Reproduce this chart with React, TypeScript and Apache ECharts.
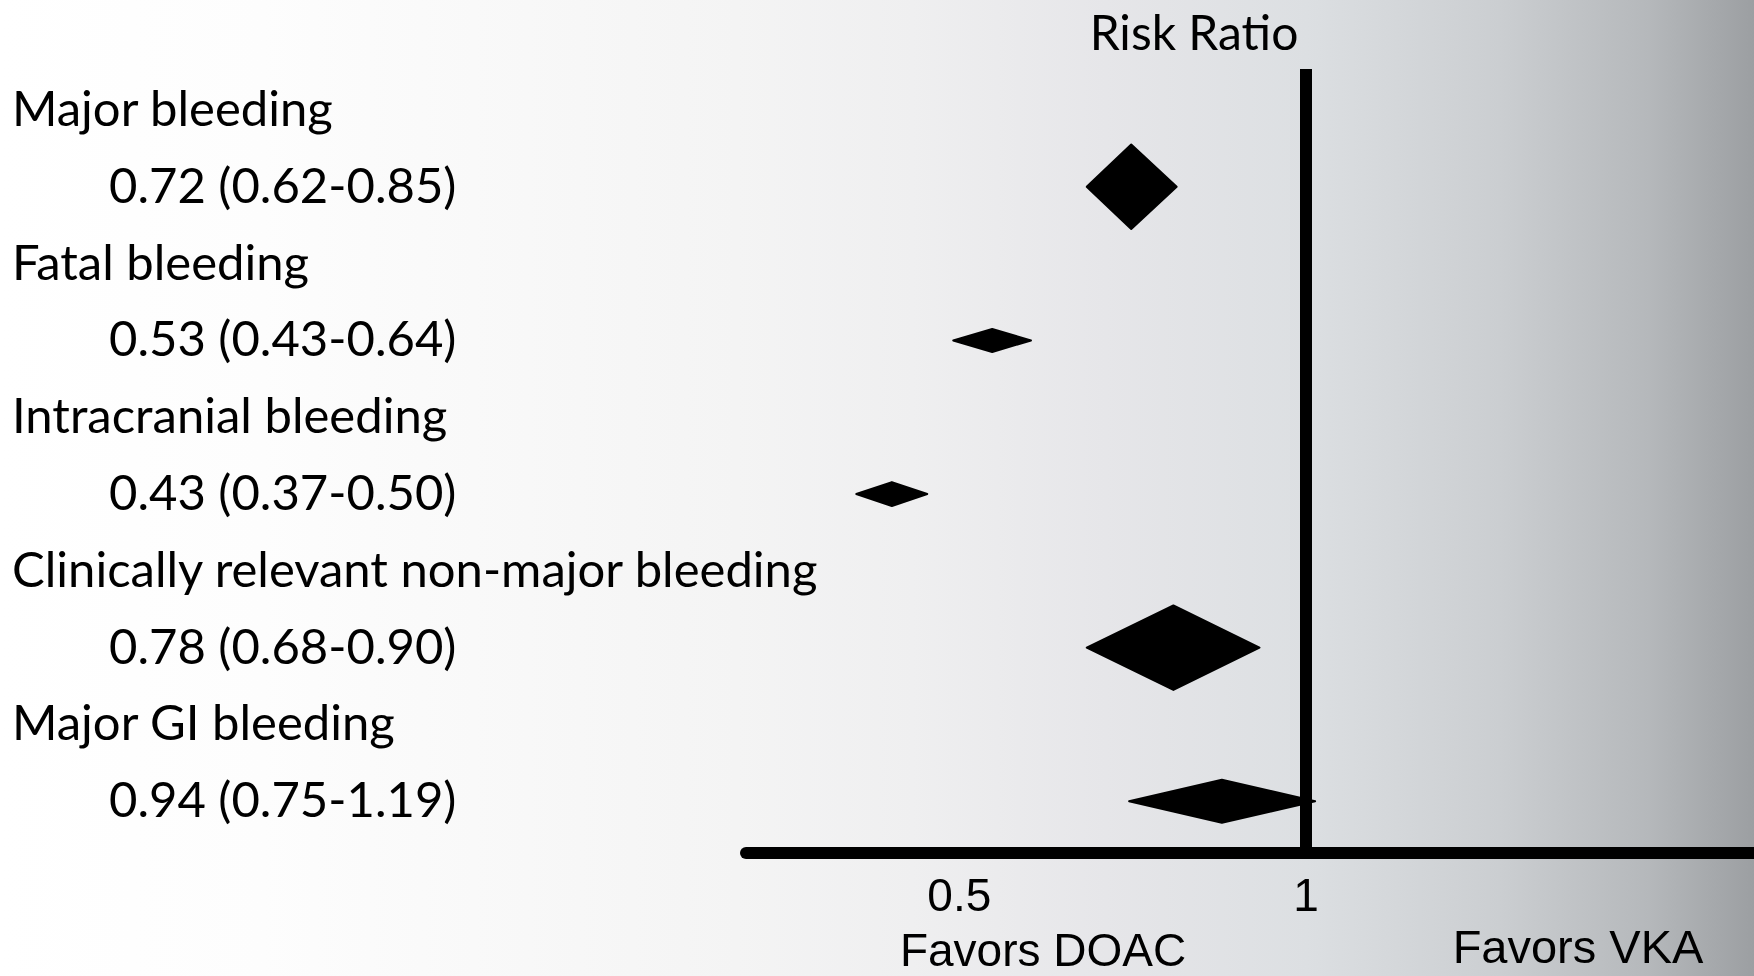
import React, { useEffect, useRef } from "react";
import * as echarts from "echarts";

// ---- data ----
const outcomes = [
  "Major bleeding",
  "Fatal bleeding",
  "Intracranial bleeding",
  "Clinically relevant non-major bleeding",
  "Major GI bleeding",
];
const riskRatio = [0.72, 0.53, 0.43, 0.78, 0.94];
const ciLower = [0.62, 0.43, 0.37, 0.68, 0.75];
const ciUpper = [0.85, 0.64, 0.5, 0.9, 1.19];

// diamond extents as drawn in the figure
const drawnCenter = [0.705, 0.534, 0.437, 0.767, 0.845];
const drawnLower = [0.645, 0.494, 0.407, 0.645, 0.702];
const drawnUpper = [0.772, 0.577, 0.469, 0.911, 1.018];

const xTickLabels = [0.5, 1];

// style: diamond heights in row units
const diamondHeight = [1.1, 0.3, 0.31, 1.1, 0.56];

const fmt = (v: number) => v.toFixed(2);

const labelLines: string[] = [];
outcomes.forEach((name, i) => {
  labelLines.push(`{n|${name}}`);
  labelLines.push(`{v|${fmt(riskRatio[i])} (${fmt(ciLower[i])}-${fmt(ciUpper[i])})}`);
});

const LABEL_FONT = "Lato, 'Noto Sans', sans-serif";
const ARIAL = "'Liberation Sans', Arial, sans-serif";

export default function App() {
  const ref = useRef<HTMLDivElement>(null);
  useEffect(() => {
    if (!ref.current) return;
    const chart = echarts.init(ref.current, undefined, { renderer: "svg" });
    const diamondData = outcomes.map((_, i) => [
      drawnCenter[i],
      drawnLower[i],
      drawnUpper[i],
      2 * (i + 1),
      diamondHeight[i],
    ]);
    const option: any = {
      animation: false,
      backgroundColor: "transparent",
      grid: {
        left: 746,
        right: 0,
        top: 69,
        bottom: 123,
        containLabel: false,
        outerBoundsMode: "none",
      },
      graphic: {
        elements: [
          {
            type: "rect",
            z: -100,
            silent: true,
            shape: { x: 0, y: 0, width: 1754, height: 976 },
            style: {
              fill: new echarts.graphic.LinearGradient(0, 0, 1, 0, [
                { offset: 0, color: "#ffffff" },
                { offset: 0.15, color: "#fdfdfd" },
                { offset: 0.42, color: "#f4f4f4" },
                { offset: 0.52, color: "#efeff0" },
                { offset: 0.63, color: "#e6e6e9" },
                { offset: 0.745, color: "#dcdfe2" },
                { offset: 0.855, color: "#cbced1" },
                { offset: 0.94, color: "#b5b8bb" },
                { offset: 1, color: "#9c9fa2" },
              ]),
            },
          },
          {
            type: "text",
            x: 1194,
            y: 31,
            style: {
              text: "Risk Ratio",
              fontFamily: LABEL_FONT,
              fontSize: 48,
              fill: "#000",
              textAlign: "center",
              textVerticalAlign: "middle",
            },
          },
          {
            type: "text",
            x: 1043,
            y: 950,
            style: {
              text: "Favors DOAC",
              fontFamily: ARIAL,
              fontSize: 46,
              fill: "#000",
              textAlign: "center",
              textVerticalAlign: "middle",
            },
          },
          {
            type: "text",
            x: 1578,
            y: 946,
            style: {
              text: "Favors VKA",
              fontFamily: ARIAL,
              fontSize: 47,
              fill: "#000",
              textAlign: "center",
              textVerticalAlign: "middle",
            },
          },
        ],
      },
      xAxis: {
        type: "log",
        logBase: 2,
        min: 0.3265,
        max: 2.447,
        axisLine: { show: true, onZero: false, lineStyle: { color: "#000", width: 12 } },
        axisTick: { show: false },
        splitLine: { show: false },
        axisLabel: {
          show: true,
          margin: 19,
          color: "#000",
          fontFamily: ARIAL,
          fontSize: 46,
          formatter: (v: number) =>
            xTickLabels.some((t) => Math.abs(t - v) < 1e-6) ? String(v) : "",
        },
      },
      yAxis: {
        type: "value",
        inverse: true,
        min: 0.466,
        max: 10.674,
        minInterval: 1,
        maxInterval: 1,
        axisLine: { show: false },
        axisTick: { show: false },
        splitLine: { show: false },
        axisLabel: {
          show: true,
          align: "left",
          verticalAlign: "middle",
          margin: 734,
          color: "#000",
          formatter: (v: number) => {
            const k = Math.round(v);
            if (Math.abs(v - k) > 1e-6 || k < 1 || k > labelLines.length) return "";
            return labelLines[k - 1];
          },
          rich: {
            n: { fontFamily: LABEL_FONT, fontSize: 49, color: "#000", padding: [0, 0, 6, 0] },
            v: { fontFamily: LABEL_FONT, fontSize: 49, color: "#000", padding: [0, 0, 6, 97] },
          },
        },
      },
      series: [
        {
          type: "custom",
          clip: false,
          z: 3,
          encode: { x: [0, 1, 2], y: 3 },
          data: diamondData,
          renderItem: (params: any, api: any) => {
            const row = api.value(3);
            const c = api.coord([api.value(0), row]);
            const l = api.coord([api.value(1), row]);
            const r = api.coord([api.value(2), row]);
            const hh = Math.abs(api.size([0, api.value(4)], [api.value(0), row])[1]) / 2;
            return {
              type: "polygon",
              shape: {
                points: [
                  [l[0], c[1]],
                  [c[0], c[1] - hh],
                  [r[0], c[1]],
                  [c[0], c[1] + hh],
                ],
              },
              style: { fill: "#000", stroke: "#000", lineWidth: 2, lineJoin: "round" },
            };
          },
          markLine: {
            silent: true,
            symbol: ["none", "none"],
            label: { show: false },
            lineStyle: { color: "#000", width: 12, type: "solid", cap: "butt" },
            data: [{ xAxis: 1 }],
          },
        },
      ],
    };
    chart.setOption(option);
    return () => chart.dispose();
  }, []);
  return (
    <div
      ref={ref}
      style={{ position: "fixed", left: 0, top: 0, width: 1754, height: 976 }}
    />
  );
}
